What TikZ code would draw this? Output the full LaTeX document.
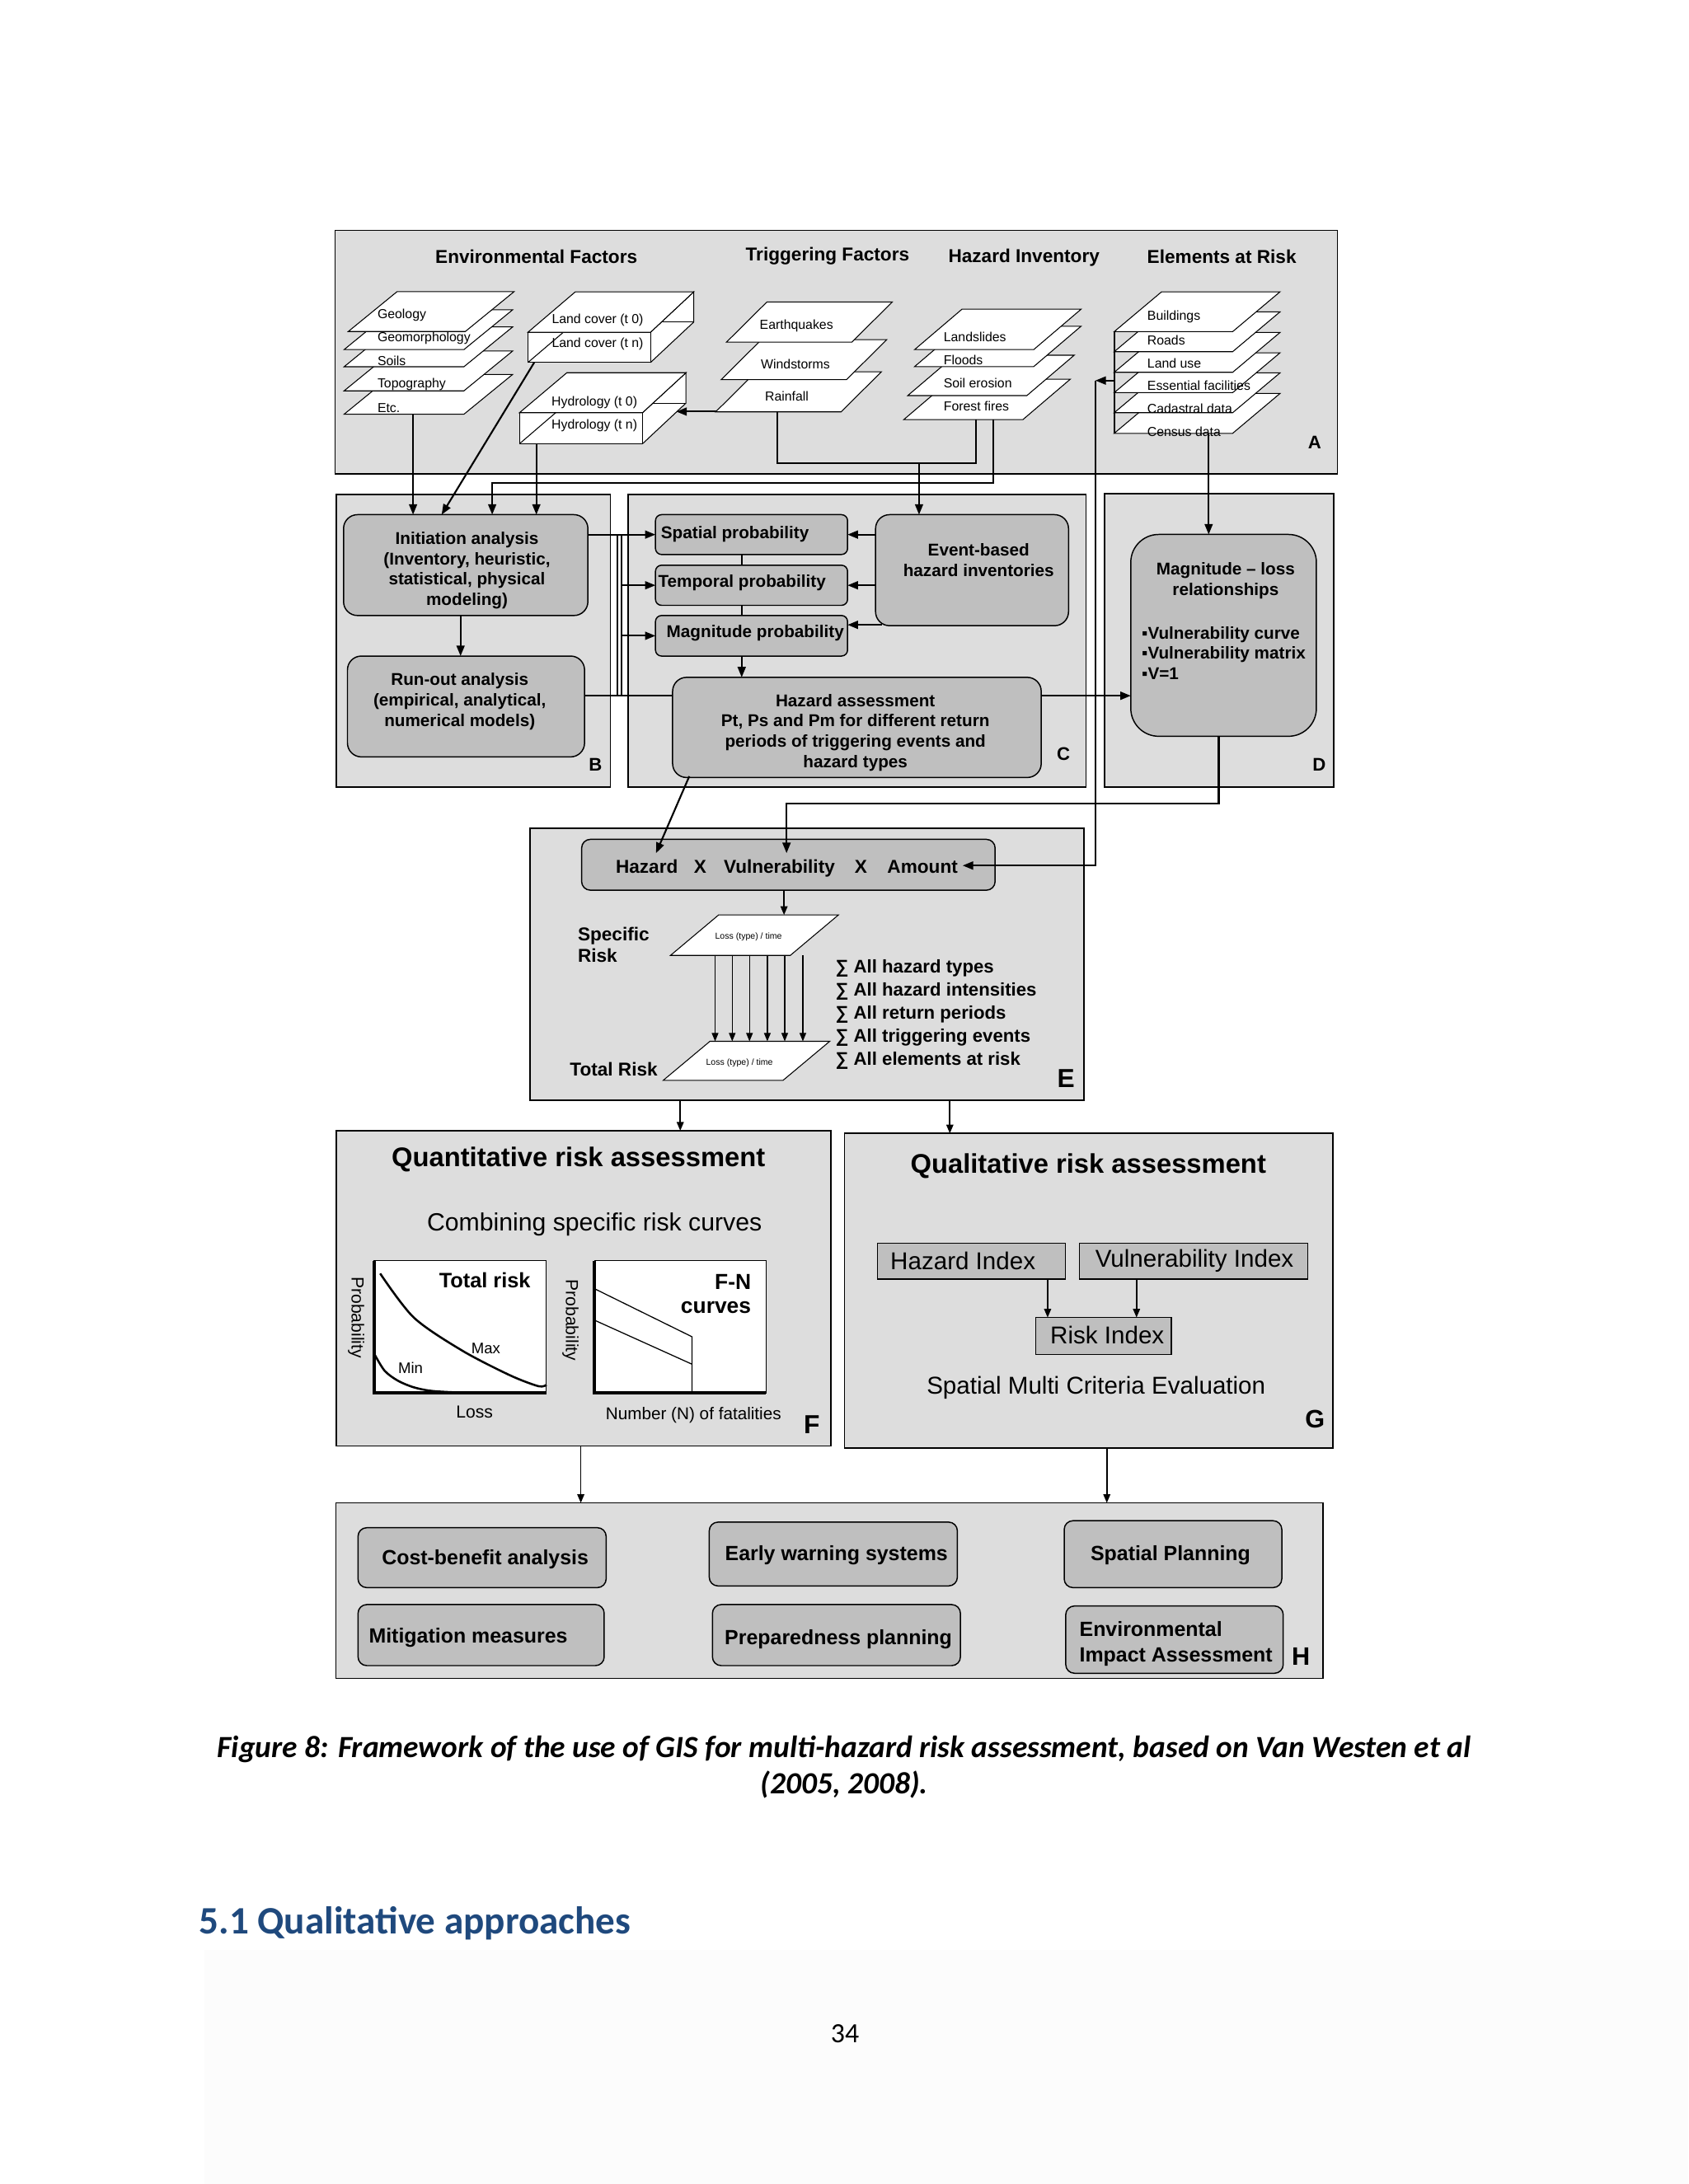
\documentclass[tikz,border=0pt]{standalone}
\usepackage{fontspec}
\setmainfont{Liberation Sans}
\newfontfamily\calfont{Carlito}
\usetikzlibrary{arrows.meta,fit}
\definecolor{panelgray}{gray}{0.867}
\definecolor{boxgray}{gray}{0.75}
\definecolor{headblue}{RGB}{31,73,125}
\definecolor{faintgray}{gray}{0.987}
\newcommand{\fsz}[2]{\fontsize{#1}{#2}\selectfont}
\newcommand{\mysheet}[6]{%
  \draw[sheet] (#1,#2) -- ({#1+#3},#2) -- ({#1+#3+#4},{#2-#5}) -- ({#1+#4},{#2-#5}) -- cycle;
  \coordinate (#6) at ({#1+(#3+#4)/2},{#2-#5/2});}
\tikzset{
  panel/.style={draw=black, fill=panelgray, line width=0.7pt, inner sep=0pt},
  rbox/.style={draw=black, fill=boxgray, line width=0.7pt, rounded corners=#1, inner sep=0pt},
  rbox/.default=7pt,
  sbox/.style={draw=black, fill=boxgray, line width=0.6pt, inner sep=0pt},
  sheet/.style={draw=black, fill=white, line width=0.5pt},
  thinln/.style={draw=black, line width=0.5pt},
  ln/.style={draw=black, line width=1pt},
  arr/.style={ln, -{Triangle[length=6pt,width=4.6pt]}},
  garr/.style={draw=black, line width=0.8pt, -{Triangle[length=5pt,width=4pt]}},
  thinarr/.style={draw=black, line width=0.6pt, -{Triangle[length=4.8pt,width=3.8pt]}},
  lab/.style={font=\fsz{7.5pt}{9pt}, anchor=west},
  clab/.style={font=\fsz{7.5pt}{9pt}},
  boxtxt/.style={font=\bfseries\fsz{9.8pt}{11.7pt}, align=center},
  hdr/.style={font=\bfseries\fsz{10.7pt}{12pt}},
  hvat/.style={font=\bfseries\fsz{10.7pt}{12pt}},
  plet/.style={font=\bfseries\fsz{10.5pt}{12pt}},
  bplet/.style={font=\bfseries\fsz{15pt}{16pt}},
  htxt/.style={font=\bfseries\fsz{11.8pt}{15pt}},
}
\begin{document}
\begin{tikzpicture}[x=0.8pt,y=-0.8pt, every node/.style={inner sep=0pt, outer sep=0pt}]
\path[fill=white, use as bounding box] (0,0) rectangle (1212,1568);
\fill[faintgray] (147,1400) rectangle (1212,1568);

% ---------------- panels
\node[panel, fit={(240.5,165.5)(960,340.3)}] (pA) {};
\node[panel, fit={(241.4,355)(438.3,565.2)}] (pB) {};
\node[panel, fit={(450.8,355)(779.7,565.2)}] (pC) {};
\node[panel, fit={(793,354.5)(957.3,565.2)}] (pD) {};
\node[panel, fit={(380.5,594.7)(778.2,790)}] (pE) {};
\node[panel, fit={(241.5,811.8)(596.5,1038.2)}] (pF) {};
\node[panel, fit={(606.3,813.7)(956.9,1039.6)}] (pG) {};
\node[panel, fit={(241,1079)(949.8,1204.9)}] (pH) {};

% ---------------- panel A headers
\node[hdr] (hEnv) at (385,184) {Environmental Factors};
\node[hdr] (hTrig) at (594,184) {Triggering Factors};
\node[hdr] (hHaz) at (735,185) {Hazard Inventory};
\node[hdr] (hEle) at (877,184) {Elements at Risk};

% environmental stack
\mysheet{247}{297.4}{86}{35}{28.6}{sEtc}
\node[lab] (lEtc) at (271,293) {Etc.};
\mysheet{247}{280.6}{86}{35}{28.6}{sTopo}
\node[lab] (lTopo) at (271,276) {Topography};
\mysheet{247}{263.3}{86}{35}{28.6}{sSoil}
\node[lab] (lSoil) at (271,259) {Soils};
\mysheet{247}{251}{86}{35}{28.6}{sGeom}
\node[lab] (lGeom) at (271,243) {Geomorphology};
\mysheet{250}{238}{84}{35}{28.6}{sGeol}
\node[lab] (lGeol) at (271,226) {Geology};

% land cover box
\fill[white] (379,238.5) -- (379,260.2) -- (467,260.2) -- (498,231.2) -- (498,209.5) -- (413,209.5) -- cycle;
\draw[thinln] (413,231.2) -- (379,260.2);
\draw[thinln] (413,231.2) -- (498,231.2);
\draw[thinln] (379,238.5) rectangle (467,260.2);
\draw[thinln] (467,238.5) -- (498,209.5) -- (498,231.2) -- (467,260.2);
\draw[sheet] (379,238.5) -- (467,238.5) -- (498,209.5) -- (413,209.5) -- cycle;
\node[clab] (lLc0) at (429,230) {Land cover (t 0)};
\node[clab] (lLcn) at (429,246.8) {Land cover (t n)};

% hydrology box
\fill[white] (372.9,296.3) -- (372.9,318.6) -- (461.2,318.6) -- (492.4,289.4) -- (492.4,267.6) -- (406.9,267.6) -- cycle;
\draw[thinln] (406.9,289.4) -- (372.9,318.6);
\draw[thinln] (406.9,289.4) -- (492.4,289.4);
\draw[thinln] (372.9,296.3) rectangle (461.2,318.6);
\draw[thinln] (461.2,296.3) -- (492.4,267.6) -- (492.4,289.4) -- (461.2,318.6);
\draw[sheet] (372.9,296.3) -- (461.2,296.3) -- (492.4,267.6) -- (406.9,267.6) -- cycle;
\node[clab] (lHy0) at (426.7,289) {Hydrology (t 0)};
\node[clab] (lHyn) at (426.7,305.5) {Hydrology (t n)};

% triggering stack
\mysheet{513.7}{295.7}{90}{29}{28.8}{sRain}
\node[clab] (lRain) at (564.8,284.5) {Rainfall};
\mysheet{517.6}{272.6}{90}{29}{28.8}{sWind}
\node[clab] (lWind) at (571,261.6) {Windstorms};
\mysheet{521.5}{245.6}{90}{29}{28.8}{sEq}
\node[clab] (lEq) at (571.7,233.8) {Earthquakes};

% hazard inventory stack
\mysheet{648.8}{301.2}{85.5}{34}{29}{sFire}
\node[lab] (lFire) at (677.4,291.7) {Forest fires};
\mysheet{651.6}{284}{85.5}{34}{29}{sEro}
\node[lab] (lEro) at (677.4,275.2) {Soil erosion};
\mysheet{656.5}{263.2}{85.5}{34}{29}{sFlood}
\node[lab] (lFlood) at (677.4,258.4) {Floods};
\mysheet{656.5}{251}{85.5}{34}{29}{sLand}
\node[lab] (lLand) at (677.4,242) {Landslides};

% elements at risk stack
\mysheet{799.8}{311.1}{85}{34}{28.6}{sCen}
\node[lab] (lCen) at (823.6,310.1) {Census data};
\mysheet{799.8}{296.3}{85}{34}{28.6}{sCad}
\node[lab] (lCad) at (823.6,293.3) {Cadastral data};
\mysheet{799.8}{281.9}{85}{34}{28.6}{sEss}
\node[lab] (lEss) at (823.6,277.1) {Essential facilities};
\mysheet{799.8}{267.3}{85}{34}{28.6}{sLu}
\node[lab] (lLu) at (823.6,260.8) {Land use};
\mysheet{799.8}{252.5}{85}{34}{28.6}{sRoad}
\node[lab] (lRoad) at (823.6,244) {Roads};
\mysheet{799.8}{238.1}{85}{34}{28.6}{sBuild}
\node[lab] (lBuild) at (823.6,227.3) {Buildings};
\coordinate (elTop) at (799.8,238.1);
\coordinate (elBot) at (799.8,311.1);
\draw[ln] (elTop) -- (elBot);

\node[plet] (letA) at (943.7,317.8) {A};

% ---------------- panel B
\node[rbox=8pt, fit={(246.6,369.5)(422,441.9)}] (init) {};
\node[boxtxt] (initT) at (335.2,409.5) {Initiation analysis\\(Inventory, heuristic,\\statistical, physical\\modeling)};
\node[rbox=8pt, fit={(249.4,471)(419.6,543.4)}] (runout) {};
\node[boxtxt] (runT) at (330,503.5) {Run-out analysis\\(empirical, analytical,\\numerical models)};
\node[plet] (letB) at (427.4,549) {B};

% ---------------- panel C
\node[rbox=3.5pt, fit={(470.5,369.5)(608.4,398.1)}] (spatial) {};
\node[rbox=3.5pt, fit={(470.5,405.8)(608.4,434.6)}] (temporal) {};
\node[rbox=3.5pt, fit={(470.5,441.9)(608.4,471)}] (magprob) {};
\node[boxtxt, anchor=west] (spT) at (474.5,383.3) {Spatial probability};
\node[boxtxt, anchor=west] (tpT) at (472.5,418.5) {Temporal probability};
\node[boxtxt, anchor=west] (mpT) at (478.5,454.5) {Magnitude probability};
\node[rbox=8pt, fit={(628.5,369.5)(767,449.2)}] (event) {};
\node[boxtxt] (evT) at (702.5,402.2) {Event-based\\hazard inventories};
\node[rbox=8pt, fit={(482.8,486.3)(747.4,558.2)}] (hazass) {};
\node[boxtxt] (haT) at (614,526) {Hazard assessment\\Pt, Ps and Pm for  different return\\periods  of triggering events and\\hazard types};
\node[plet] (letC) at (763.4,541.5) {C};

% ---------------- panel D
\node[rbox=16pt, fit={(811.7,383.7)(944.9,528.6)}] (magloss) {};
\node[boxtxt] (mlT) at (879.8,416.8) {Magnitude -- loss\\relationships};
\node[boxtxt, align=left, anchor=west] (mlB) at (819.6,468.8) {▪Vulnerability curve\\▪Vulnerability matrix\\▪V=1};
\node[plet] (letD) at (946.9,549.2) {D};

% ---------------- panel E
\node[rbox=5pt, fit={(417.5,602.6)(714.3,639.1)}] (hva) {};
\node[hvat, anchor=base] (hzT) at (464.3,627) {Hazard};
\node[hvat, anchor=base] (x1T) at (502.6,627) {X};
\node[hvat, anchor=base] (vuT) at (559.4,627) {Vulnerability};
\node[hvat, anchor=base] (x2T) at (618,627) {X};
\node[hvat, anchor=base] (amt) at (662.2,627) {Amount};
\mysheet{481.3}{685.9}{86}{34.5}{29}{sSpec}
\node[font=\fsz{5pt}{6pt}] (spLoss) at (537.3,672.7) {Loss (type) / time};
\mysheet{476.1}{775.6}{86}{33.5}{28}{sTot}
\node[font=\fsz{5pt}{6pt}] (totLoss) at (530.8,763) {Loss (type) / time};
\node[hvat, align=left, anchor=west, font=\bfseries\fsz{10.7pt}{12.6pt}] (specT) at (414.8,678.4) {Specific\\Risk};
\node[hvat, anchor=west] (totT) at (409.1,767.4) {Total Risk};
\node[hvat, align=left, anchor=west, font=\bfseries\fsz{10.5pt}{13.2pt}] (sumT) at (599.8,728.3) {∑ All hazard  types\\∑ All hazard  intensities\\∑ All return  periods\\∑ All triggering  events\\∑ All elements  at risk};
\node[bplet] (letE) at (765.2,774.2) {E};

% ---------------- panel F
\node[font=\bfseries\fsz{15.5pt}{17pt}] (qtT) at (415.2,832.4) {Quantitative risk assessment};
\node[font=\fsz{14.3pt}{16pt}] (cbT) at (426.7,878.8) {Combining specific risk curves};
\node[draw, fill=white, line width=0.5pt, fit={(268.4,905)(392.2,1000.1)}] (plot1) {};
\draw[line width=2pt] (plot1.north west) -- (plot1.south west) -- (plot1.south east);
\draw[line width=1.2pt] plot[smooth] coordinates {(272.9,914.3) (297,945.9) (331.5,969.5) (365.9,987.3) (386.5,995.2) (392.2,994.2)};
\draw[line width=1.2pt] plot[smooth] coordinates {(268.4,971.5) (276,984) (285.5,991.2) (297,996) (310,998.6) (330,999.8)};
\node[font=\bfseries\fsz{12pt}{14pt}, anchor=east] (trT) at (380.8,919.2) {Total risk};
\node[font=\fsz{8.8pt}{10pt}] (maxT) at (348.7,968) {Max};
\node[font=\fsz{8.8pt}{10pt}] (minT) at (294.7,981.8) {Min};
\node[font=\fsz{10pt}{12pt}, rotate=-90] (prob1) at (255.7,945.9) {Probability};
\node[font=\fsz{10pt}{12pt}] (lossT) at (340.6,1013.9) {Loss};
\node[draw, fill=white, line width=0.5pt, fit={(426.7,905)(549.9,1000.1)}] (plot2) {};
\draw[line width=2pt] (plot2.north west) -- (plot2.south west) -- (plot2.south east);
\draw[line width=0.6pt] (426.7,925.2) -- (496.7,959.7) -- (496.7,1000.1);
\draw[line width=0.6pt] (426.7,947.8) -- (496.7,979.4);
\node[font=\bfseries\fsz{12.5pt}{14pt}, anchor=east] (fnT) at (539.1,920.2) {F-N};
\node[font=\bfseries\fsz{12.5pt}{14pt}, anchor=east] (cvT) at (539.1,939) {curves};
\node[font=\fsz{10pt}{12pt}, rotate=-90] (prob2) at (409.5,947.8) {Probability};
\node[font=\fsz{9.8pt}{12pt}] (nfT) at (497.8,1015.9) {Number (N) of fatalities};
\node[bplet] (letF) at (582.7,1022.8) {F};

% ---------------- panel G
\node[font=\bfseries\fsz{15.5pt}{17pt}] (qlT) at (781.2,837.4) {Qualitative risk assessment};
\node[sbox, fit={(629.8,892.6)(764.8,918.3)}] (hazidx) {};
\node[font=\fsz{14pt}{16pt}] (hiT) at (691.2,905.4) {Hazard Index};
\node[sbox, fit={(774.8,892.6)(938.7,918.3)}] (vulidx) {};
\node[font=\fsz{14pt}{16pt}] (viT) at (857.4,905.4) {Vulnerability Index};
\node[sbox, fit={(743.6,945.9)(840.8,972.5)}] (riskidx) {};
\node[font=\fsz{14pt}{16pt}] (riT) at (794.8,958.7) {Risk Index};
\node[font=\fsz{14pt}{16pt}] (smT) at (786.8,996.2) {Spatial Multi  Criteria Evaluation};
\node[bplet, font=\bfseries\fsz{14.5pt}{16pt}] (letG) at (943.9,1018.9) {G};

% ---------------- panel H
\node[rbox=5pt, fit={(257,1096.8)(435.1,1139.8)}] (cba) {};
\node[htxt] (cbaT) at (348.3,1119.5) {Cost-benefit analysis};
\node[rbox=5pt, fit={(257,1152)(433.7,1195.8)}] (mit) {};
\node[htxt, anchor=west] (mitT) at (264.8,1175.7) {Mitigation measures};
\node[rbox=5pt, fit={(509.1,1092.8)(687.2,1138.6)}] (ews) {};
\node[htxt] (ewsT) at (600.4,1116.5) {Early warning systems};
\node[rbox=5pt, fit={(511.4,1152)(689.4,1195.8)}] (prep) {};
\node[htxt] (prepT) at (601.8,1176.7) {Preparedness planning};
\node[rbox=5pt, fit={(763.9,1091.8)(920.1,1139.8)}] (spl) {};
\node[htxt] (splT) at (840.2,1116.8) {Spatial Planning};
\node[rbox=5pt, fit={(765,1153)(921.1,1201.3)}] (eia) {};
\node[htxt, align=left, anchor=west] (eiaT) at (774.9,1180.1) {Environmental\\Impact Assessment};
\node[bplet, font=\bfseries\fsz{14.5pt}{16pt}] (letH) at (933.8,1189.5) {H};

% ---------------- connectors panel A -> B, C, D
\coordinate (envout) at (296.5,297.4);
\draw[arr] (envout) -- (envout |- init.north);
\coordinate (lcout) at (383.5,260.2);
\coordinate (lcin) at (317,369.5);
\draw[arr] (lcout) -- (lcin);
\coordinate (hyout) at (385,318.6);
\draw[arr] (hyout) -- (hyout |- init.north);
\coordinate (ffout) at (713,301.2);
\coordinate (busy) at (0,346.8);
\coordinate (frin) at (353.3,0);
\draw[arr] (ffout) -- (ffout |- busy) -- (frin |- busy) -- (frin |- init.north);
\coordinate (rfout) at (557.8,295.7);
\coordinate (ffout2) at (700.7,301.2);
\coordinate (rby) at (0,332.4);
\draw[ln] (rfout) -- (rfout |- rby) -- (ffout2 |- rby) -- (ffout2);
\coordinate (evin) at (659.7,0);
\draw[arr] (evin |- rby) -- (evin |- event.north);
\coordinate (rfl) at (514.3,295.5);
\coordinate (hyr) at (485.5,295.5);
\draw[arr] (rfl) -- (hyr);
\coordinate (elb) at (799.8,273.2);
\coordinate (elcol) at (786.3,0);
\coordinate (amtin) at (691,621.4);
\draw[arr] (elb) -- (elb -| elcol);
\draw[arr] (elb -| elcol) -- (elcol |- amtin) -- (amtin);
\coordinate (eldown) at (867.6,311.1);
\draw[arr] (eldown) -- (eldown |- magloss.north);

% ---------------- connectors B, C
\draw[arr] (spatial.west -| init.east) -- (spatial.west);
\coordinate (bus1) at (443,0);
\coordinate (bus2) at (446.1,0);
\coordinate (rline) at (0,499.5);
\draw[ln] (bus1 |- spatial.west) -- (bus1 |- rline);
\draw[ln] (bus2 |- spatial.west) -- (bus2 |- rline);
\draw[arr] (bus2 |- temporal.west) -- (temporal.west);
\draw[arr] (bus2 |- magprob.west) -- (magprob.west);
\coordinate (ircol) at (330.6,0);
\draw[arr] (ircol |- init.south) -- (ircol |- runout.north);
\draw[ln] (runout.east |- rline) -- (hazass.west |- rline);
\coordinate (pcol) at (532.4,0);
\draw[ln] (pcol |- spatial.south) -- (pcol |- temporal.north);
\draw[ln] (pcol |- temporal.south) -- (pcol |- magprob.north);
\draw[arr] (pcol |- magprob.south) -- (pcol |- hazass.north);
\draw[arr] (event.west |- spatial.east) -- (spatial.east);
\draw[arr] (event.west |- temporal.east) -- (temporal.east);
\coordinate (evm) at (633,448.6);
\draw[arr] (evm) -- (evm -| magprob.east);
\draw[arr] (hazass.east |- rline) -- (magloss.west |- rline);

% ---------------- connectors to E
\coordinate (dcol) at (874.8,0);
\coordinate (hl) at (0,577);
\coordinate (vin) at (564.6,612.5);
\draw[arr] (dcol |- magloss.south) -- (dcol |- hl) -- (vin |- hl) -- (vin);
\coordinate (hzo) at (494.8,557.3);
\coordinate (hzin) at (470.9,612.5);
\draw[arr] (hzo) -- (hzin);
\coordinate (scol) at (562.8,0);
\coordinate (spectop) at (562.8,656.9);
\draw[garr] (scol |- hva.south) -- (spectop);
\coordinate (specB) at (0,685.9);
\coordinate (totTop) at (0,747.6);
\foreach \xx in {513.3,525.6,538,550.8,563.3,576.3}
  \draw[thinarr] (\xx,0 |- specB) -- (\xx,0 |- totTop);

% ---------------- connectors E->F,G ; F,G->H ; inside G
\coordinate (efx) at (488.3,0);
\draw[garr] (efx |- pE.south) -- (efx |- pF.north);
\coordinate (egx) at (681.8,0);
\draw[garr] (egx |- pE.south) -- (egx |- pG.north);
\coordinate (fhx) at (416.9,0);
\draw[garr] (fhx |- pF.south) -- (fhx |- pH.north);
\coordinate (ghx) at (794.5,0);
\draw[garr] (ghx |- pG.south) -- (ghx |- pH.north);
\coordinate (hix) at (752,0);
\draw[garr] (hix |- hazidx.south) -- (hix |- riskidx.north);
\coordinate (vix) at (815.8,0);
\draw[garr] (vix |- vulidx.south) -- (vix |- riskidx.north);

% ---------------- caption, heading, page number
\node[font=\calfont\bfseries\itshape\fsz{17.7pt}{21pt}] (cap1) at (606,1256) {Figure 8: Framework of the use of GIS for multi-hazard risk assessment, based on Van Westen et al};
\node[font=\calfont\bfseries\itshape\fsz{17.7pt}{21pt}] (cap2) at (606,1281) {(2005, 2008).};
\node[font=\calfont\bfseries\fsz{22.3pt}{26pt}, text=headblue, anchor=west] (head) at (143,1381) {5.1 Qualitative approaches};
\node[font=\calfont\fsz{16pt}{18pt}] (pgno) at (606.5,1460) {34};
\end{tikzpicture}
\end{document}
